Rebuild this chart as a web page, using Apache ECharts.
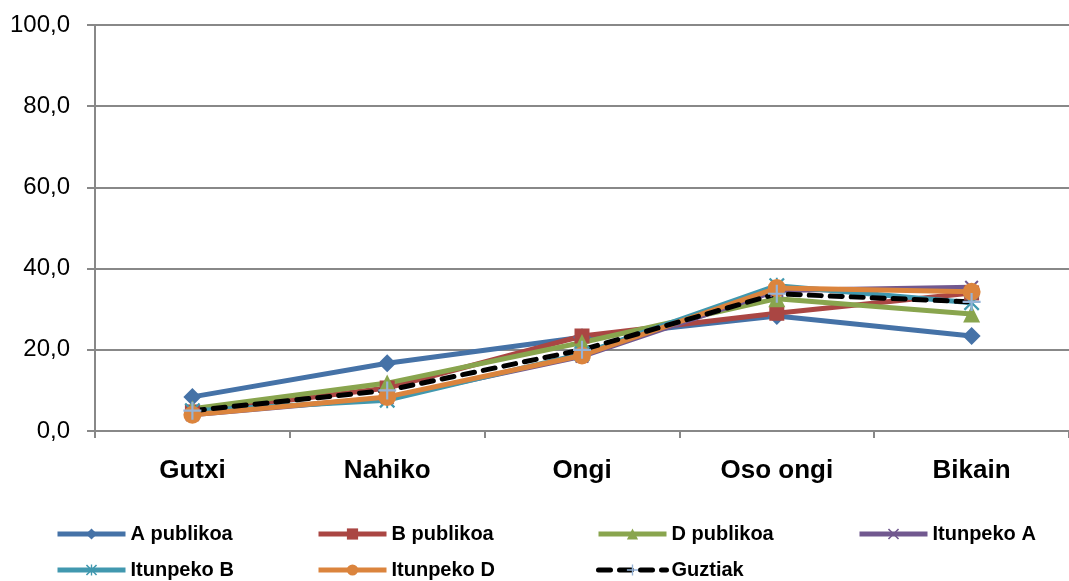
<!DOCTYPE html>
<html>
<head>
<meta charset="utf-8">
<script src="https://cdn.jsdelivr.net/npm/echarts@6/dist/echarts.min.js"></script>
<style>
  html, body { margin: 0; padding: 0; background: #fff; }
  #main { width: 1069px; height: 581px; }
</style>
</head>
<body>
<div id="main"></div>
<script>
var categories = ['Gutxi', 'Nahiko', 'Ongi', 'Oso ongi', 'Bikain'];
var seriesNames = ['A publikoa', 'B publikoa', 'D publikoa', 'Itunpeko A', 'Itunpeko B', 'Itunpeko D', 'Guztiak'];

var aPublikoa = [8.4, 16.7, 23.1, 28.3, 23.4];
var bPublikoa = [4.7, 10.6, 23.4, 29.0, 34.0];
var dPublikoa = [5.5, 11.8, 21.8, 32.6, 28.8];
var itunpekoA = [4.0, 8.2, 18.4, 34.6, 35.4];
var itunpekoB = [5.0, 7.6, 19.0, 35.8, 31.6];
var itunpekoD = [4.0, 8.4, 18.6, 35.2, 34.3];
var guztiak = [5.0, 10.0, 20.0, 33.8, 31.8];

var yTicks = [0, 20, 40, 60, 80, 100];

var colors = ['#4572A7', '#AA4643', '#89A54E', '#71588F', '#4198AF', '#DB843D', '#000000'];

var xPath = 'path://M0,1 L1,0 L5,4 L9,0 L10,1 L6,5 L10,9 L9,10 L5,6 L1,10 L0,9 L4,5 Z';
var plusPath = 'path://M4.4,0 L5.6,0 L5.6,4.4 L10,4.4 L10,5.6 L5.6,5.6 L5.6,10 L4.4,10 L4.4,5.6 L0,5.6 L0,4.4 L4.4,4.4 Z';
var starPath = 'path://M0,1 L1,0 L5,4 L9,0 L10,1 L6,5 L10,9 L9,10 L5,6 L1,10 L0,9 L4,5 Z M4.4,0 L5.6,0 L5.6,10 L4.4,10 Z';

var fontName = '"Liberation Sans", Arial, sans-serif';

function makeSeries(name, data, color, symbol, size) {
  return {
    name: name,
    type: 'line',
    data: data,
    symbol: symbol,
    symbolSize: size,
    showAllSymbol: true,
    lineStyle: { color: color, width: 5 },
    itemStyle: { color: color },
    emphasis: { disabled: true },
    animation: false
  };
}

var series = [
  makeSeries(seriesNames[0], aPublikoa, colors[0], 'diamond', 18),
  makeSeries(seriesNames[1], bPublikoa, colors[1], 'rect', 15),
  makeSeries(seriesNames[2], dPublikoa, colors[2], 'triangle', 17),
  makeSeries(seriesNames[3], itunpekoA, colors[3], xPath, 14),
  makeSeries(seriesNames[4], itunpekoB, colors[4], starPath, 16),
  makeSeries(seriesNames[5], itunpekoD, colors[5], 'circle', 18),
  makeSeries(seriesNames[6], guztiak, colors[6], plusPath, 18)
];
series[6].lineStyle = { color: '#000', width: 5, type: [12, 9], cap: 'round' };
series[6].itemStyle = { color: '#95B3D7' };

// legend positions: two rows, four columns
var legendPos = [[55, 524], [316, 524], [596, 524], [857, 524], [55, 560], [316, 560], [596, 560]];
var legends = seriesNames.map(function (n, i) {
  return {
    data: [n],
    left: legendPos[i][0],
    top: legendPos[i][1],
    padding: 0,
    itemWidth: 68,
    itemHeight: 14,
    itemGap: 0,
    selectedMode: false,
    lineStyle: { width: 5 },
    textStyle: { fontFamily: fontName, fontWeight: 'bold', fontSize: 20, color: '#000' }
  };
});

var myChart = echarts.init(document.getElementById('main'));

var option = {
  backgroundColor: '#fff',
  animation: false,
  legend: legends,
  grid: { left: 95, top: 25, width: 980, height: 406, containLabel: false },
  xAxis: {
    type: 'category',
    data: categories,
    boundaryGap: true,
    axisLine: { lineStyle: { color: '#888', width: 2 } },
    axisTick: { show: true, length: 7, lineStyle: { color: '#888', width: 2 } },
    axisLabel: { margin: 27, color: '#000', fontFamily: fontName, fontWeight: 'bold', fontSize: 26 },
    splitLine: { show: false }
  },
  yAxis: {
    type: 'value',
    min: yTicks[0],
    max: yTicks[yTicks.length - 1],
    interval: 20,
    axisLine: { show: true, lineStyle: { color: '#888', width: 2 } },
    axisTick: { show: true, length: 8, lineStyle: { color: '#888', width: 2 } },
    axisLabel: {
      margin: 25,
      color: '#000',
      fontFamily: fontName,
      fontSize: 24,
      formatter: function (v) { return v.toFixed(1).replace('.', ','); }
    },
    splitLine: { show: true, lineStyle: { color: '#888', width: 2 } }
  },
  series: series
};

myChart.setOption(option);
</script>
</body>
</html>
